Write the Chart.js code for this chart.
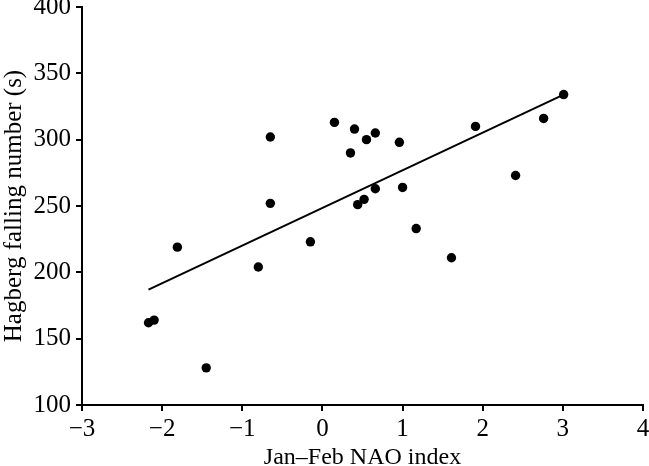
<!DOCTYPE html>
<html>
<head>
<meta charset="utf-8">
<script src="https://cdn.jsdelivr.net/npm/chart.js@4/dist/chart.umd.min.js"></script>
<style>
  html, body { margin: 0; padding: 0; background: #fff; }
  #wrap { width: 649px; height: 466px; }
</style>
</head>
<body>
<div id="wrap"><canvas id="c" width="649" height="466"></canvas></div>
<script>
// Jan–Feb NAO index (x) and Hagberg falling number (y)
const naoIndex = [-2.17, -2.10, -1.81, -1.45, -0.80, -0.65, -0.65, -0.15, 0.15, 0.35, 0.40, 0.44,
                  0.52, 0.55, 0.66, 0.66, 0.96, 1.00, 1.17, 1.61, 1.91, 2.41, 2.76, 3.01];
const fallingNumber = [162, 164, 219, 128, 204, 302, 252, 223, 313, 290, 308, 251,
                       255, 300, 305, 263, 298, 264, 233, 211, 310, 273, 316, 334];
// Fitted regression line end points
const fitX = [-2.17, 3.01];
const fitY = [187, 334];
const xTicks = [-3, -2, -1, 0, 1, 2, 3, 4];
const yTicks = [100, 150, 200, 250, 300, 350, 400];

const points = naoIndex.map((x, i) => ({ x: x, y: fallingNumber[i] }));
const fit = fitX.map((x, i) => ({ x: x, y: fitY[i] }));

Chart.defaults.font.family = '"Liberation Serif", "Times New Roman", serif';
Chart.defaults.color = '#000';

new Chart(document.getElementById('c'), {
  type: 'scatter',
  data: {
    datasets: [
      {
        data: points,
        backgroundColor: '#000',
        borderWidth: 0,
        pointRadius: 4.7,
        pointHoverRadius: 4.7
      },
      {
        type: 'line',
        data: fit,
        borderColor: '#000',
        borderWidth: 2,
        pointRadius: 0,
        fill: false,
        showLine: true
      }
    ]
  },
  options: {
    responsive: false,
    animation: false,
    events: [],
    layout: { padding: { top: 7, right: 6, left: 0, bottom: 0 } },
    plugins: { legend: { display: false }, tooltip: { enabled: false } },
    scales: {
      x: {
        type: 'linear',
        min: -3, max: 4,
        afterBuildTicks: s => { s.ticks = xTicks.map(v => ({ value: v })); },
        afterFit: s => { s.height = 61; s.paddingLeft = 0; s.paddingRight = 0; },
        border: { display: true, color: '#000', width: 2 },
        grid: { display: true, drawOnChartArea: false, drawTicks: true, tickLength: 6, color: '#000', lineWidth: 2 },
        ticks: {
          font: { size: 25 },
          color: '#000',
          padding: 3,
          maxRotation: 0,
          callback: v => (v < 0 ? '\u2212' + Math.abs(v) : String(v))
        },
        title: {
          display: true,
          text: 'Jan\u2013Feb NAO index',
          font: { size: 24, lineHeight: 0.7 },
          color: '#000',
          padding: { top: 0, bottom: 0 }
        }
      },
      y: {
        type: 'linear',
        min: 100, max: 400,
        afterBuildTicks: s => { s.ticks = yTicks.map(v => ({ value: v })); },
        afterFit: s => { s.width = 82; s.paddingTop = 0; s.paddingBottom = 0; },
        border: { display: true, color: '#000', width: 2 },
        grid: { display: true, drawOnChartArea: false, drawTicks: true, tickLength: 6, color: '#000', lineWidth: 2 },
        ticks: {
          font: { size: 25 },
          color: '#000',
          padding: 5
        },
        title: {
          display: true,
          text: 'Hagberg falling number (s)',
          font: { size: 25, lineHeight: 1.15 },
          color: '#000',
          padding: { top: 0, bottom: 2 }
        }
      }
    }
  }
});
</script>
</body>
</html>
